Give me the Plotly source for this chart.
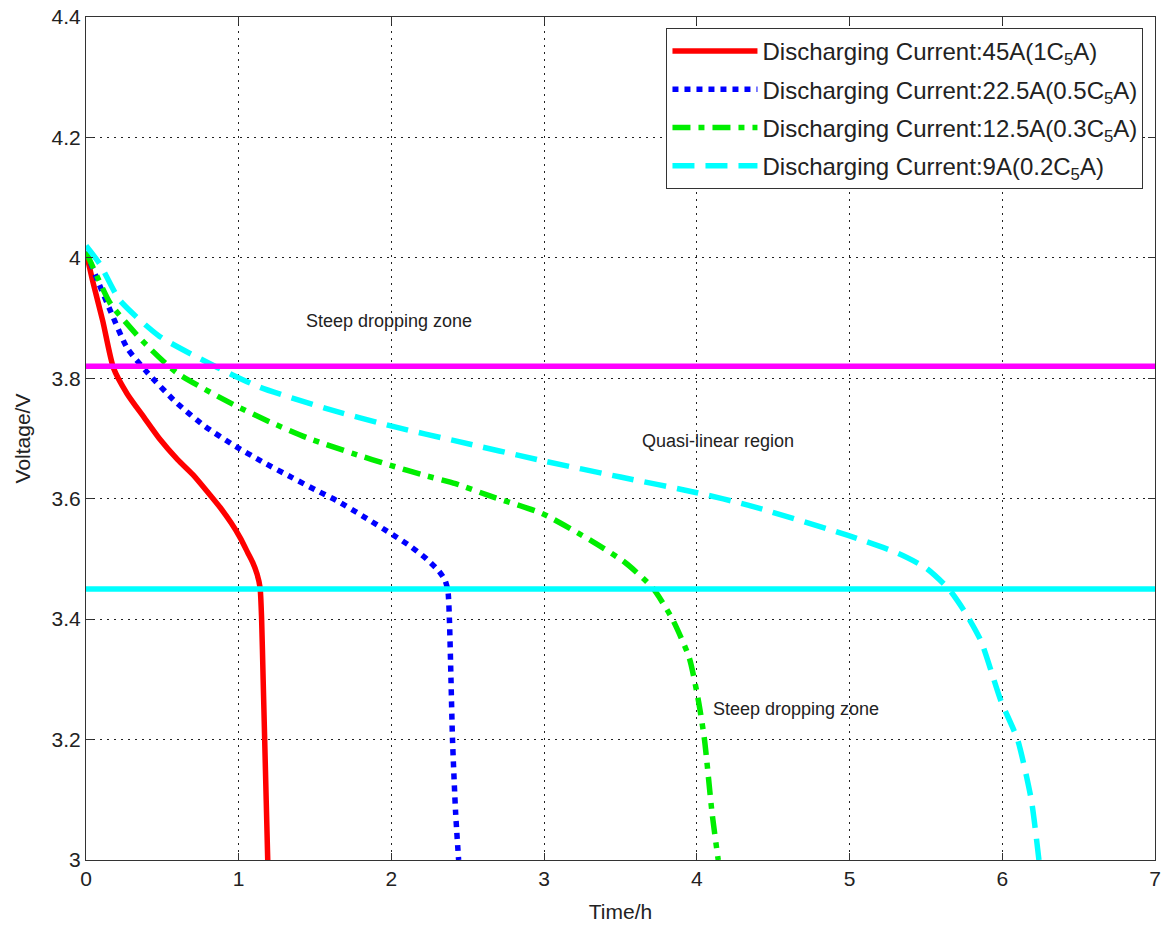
import plotly.graph_objects as go

# ---- data ----
t_45 = [0, 0.05, 0.11, 0.18, 0.27, 0.38, 0.48, 0.60, 0.70, 0.80, 0.88, 0.95, 1.01, 1.06, 1.09, 1.12, 1.14, 1.15, 1.16, 1.17, 1.18, 1.19]
v_45 = [4.01, 3.955, 3.895, 3.817, 3.774, 3.735, 3.70, 3.665, 3.64, 3.61, 3.585, 3.56, 3.535, 3.51, 3.495, 3.475, 3.452, 3.40, 3.30, 3.20, 3.10, 3.0]

t_225 = [0, 0.08, 0.16, 0.27, 0.40, 0.59, 0.78, 0.96, 1.15, 1.35, 1.50, 1.64, 1.82, 2.01, 2.13, 2.23, 2.31, 2.35, 2.37, 2.38, 2.39, 2.40, 2.42, 2.44]
v_225 = [4.01, 3.96, 3.912, 3.85, 3.81, 3.76, 3.72, 3.69, 3.662, 3.635, 3.615, 3.597, 3.57, 3.54, 3.52, 3.50, 3.48, 3.465, 3.447, 3.397, 3.30, 3.20, 3.08, 3.0]

t_125 = [0, 0.08, 0.16, 0.37, 0.59, 0.96, 1.20, 1.46, 1.75, 2.0, 2.2, 2.42, 2.64, 2.99, 3.31, 3.53, 3.71, 3.84, 3.95, 4.01, 4.05, 4.10, 4.14]
v_125 = [4.01, 3.965, 3.924, 3.862, 3.81, 3.757, 3.728, 3.70, 3.675, 3.655, 3.64, 3.625, 3.605, 3.575, 3.53, 3.494, 3.452, 3.40, 3.336, 3.265, 3.20, 3.077, 3.0]

t_9 = [0, 0.09, 0.22, 0.48, 0.86, 1.14, 1.57, 2.01, 2.42, 2.99, 3.5, 4.0, 4.34, 4.99, 5.32, 5.50, 5.65, 5.76, 5.86, 5.99, 6.10, 6.19, 6.24]
v_9 = [4.02, 3.99, 3.93, 3.87, 3.818, 3.785, 3.75, 3.72, 3.696, 3.663, 3.636, 3.61, 3.589, 3.539, 3.509, 3.485, 3.45, 3.41, 3.364, 3.265, 3.20, 3.10, 3.0]

upper_limit_x = [0, 7]
upper_limit_v = [3.82, 3.82]
lower_limit_x = [0, 7]
lower_limit_v = [3.45, 3.45]

series_names = [
    "Discharging Current:45A(1C<sub>5</sub>A)",
    "Discharging Current:22.5A(0.5C<sub>5</sub>A)",
    "Discharging Current:12.5A(0.3C<sub>5</sub>A)",
    "Discharging Current:9A(0.2C<sub>5</sub>A)",
]

x_tickvals = [0, 1, 2, 3, 4, 5, 6, 7]
x_ticktext = ["0", "1", "2", "3", "4", "5", "6", "7"]
y_tickvals = [3.0, 3.2, 3.4, 3.6, 3.8, 4.0, 4.2, 4.4]
y_ticktext = ["3", "3.2", "3.4", "3.6", "3.8", "4", "4.2", "4.4"]

annotations_text = ["Steep dropping zone", "Quasi-linear region", "Steep dropping zone"]
annotations_x = [1.43, 3.63, 4.09]
annotations_y = [3.895, 3.696, 3.25]

FONT = "Liberation Sans, Arial, sans-serif"
TXT = "#222222"

fig = go.Figure()

styles = [
    dict(color="#ff0000", width=5.5, dash="solid"),
    dict(color="#0000ff", width=5.5, dash="6px,6px"),
    dict(color="#00ee00", width=5.5, dash="18px,8px,6px,8px"),
    dict(color="#00ffff", width=5.5, dash="22px,11px"),
]
data = [(t_45, v_45), (t_225, v_225), (t_125, v_125), (t_9, v_9)]

for i, ((tx, vy), st, nm) in enumerate(zip(data, styles, series_names)):
    fig.add_trace(go.Scatter(
        x=tx, y=vy, mode="lines", name=nm, legendgroup=f"g{i}",
        line=dict(color=st["color"], width=st["width"], dash=st["dash"], shape="spline", smoothing=0.6),
    ))

fig.add_trace(go.Scatter(x=upper_limit_x, y=upper_limit_v, mode="lines", showlegend=False,
                         line=dict(color="#ff00ff", width=5.5), hoverinfo="skip"))
fig.add_trace(go.Scatter(x=lower_limit_x, y=lower_limit_v, mode="lines", showlegend=False,
                         line=dict(color="#00ffff", width=5.5), hoverinfo="skip"))

for txt, ax, ay in zip(annotations_text, annotations_x, annotations_y):
    fig.add_annotation(x=ax, y=ay, text=txt, showarrow=False, xanchor="left", yanchor="middle",
                       font=dict(family=FONT, size=18, color=TXT))

axis_common = dict(
    showline=True, linecolor="#333333", linewidth=1, mirror="ticks",
    ticks="inside", ticklen=7, tickcolor="#333333",
    showgrid=True, gridcolor="#222222", gridwidth=1, griddash="2px,5px",
    zeroline=False, tickfont=dict(family=FONT, size=21, color=TXT),
    automargin=False,
)

fig.update_xaxes(range=[0, 7], tickvals=x_tickvals, ticktext=x_ticktext,
                 title=dict(text="Time/h", font=dict(family=FONT, size=21, color=TXT)),
                 **axis_common)
fig.update_yaxes(range=[3, 4.4], tickvals=y_tickvals, ticktext=y_ticktext,
                 title=dict(text="Voltage/V", font=dict(family=FONT, size=21, color=TXT)),
                 **axis_common)

fig.update_layout(
    width=1162, height=925,
    margin=dict(l=86, r=7, t=17, b=65),
    plot_bgcolor="white", paper_bgcolor="white",
    font=dict(family=FONT, color=TXT),
    legend=dict(x=0.543, y=0.987, xanchor="left", yanchor="top",
                bgcolor="white", bordercolor="#333333", borderwidth=1,
                font=dict(family=FONT, size=24, color=TXT),
                itemwidth=85, tracegroupgap=4),
    showlegend=True,
)

fig.write_html("out.html", config={"displayModeBar": False},
               post_script="document.body.style.margin='0';")
